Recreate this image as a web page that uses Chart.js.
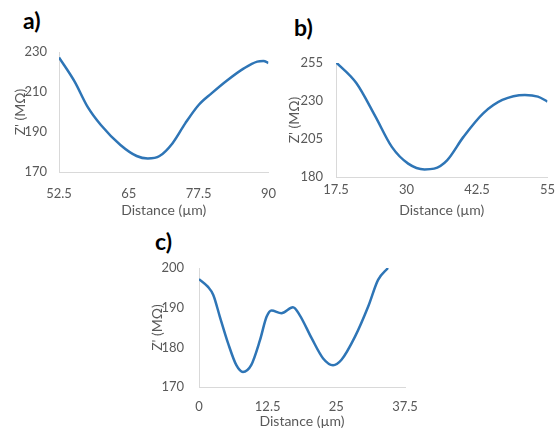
<!DOCTYPE html>
<html>
<head>
<meta charset="utf-8">
<script src="https://cdn.jsdelivr.net/npm/chart.js@4"></script>
<style>
  body { margin: 0; background: #fff; width: 560px; height: 430px; position: relative; overflow: hidden; }
  canvas { position: absolute; }
  .tag { position: absolute; font-family: Lato, sans-serif; font-weight: bold; font-size: 23px; color: #000; }
</style>
</head>
<body>
<div class="tag" style="left:23px;top:6px;">a)</div>
<div class="tag" style="left:294px;top:13px;">b)</div>
<div class="tag" style="left:155px;top:227px;">c)</div>
<canvas id="chartA" style="left:0px;top:0px;"></canvas>
<canvas id="chartB" style="left:280px;top:0px;"></canvas>
<canvas id="chartC" style="left:140px;top:220px;"></canvas>
<script>
// panel a
const aDist = [52.5, 55.3, 57.6, 60, 63.5, 66.4, 68.4, 70.5, 72.8, 75.1, 77.5, 79.8, 82.7, 85.6, 88, 89.1, 90];
const aZ = [227.3, 215.2, 202.7, 193.5, 183.5, 178, 176.8, 178, 184.3, 194.3, 203.5, 209.3, 216, 221.8, 225.2, 225.5, 224.5];
const aXTicks = [52.5, 65, 77.5, 90];
const aYTicks = [170, 190, 210, 230];

// panel b
const bDist = [17.5, 21.1, 24.5, 27.4, 30.3, 33.2, 34.9, 37.2, 40.1, 43.6, 47, 51, 53.3, 55];
const bZ = [255.5, 241.8, 219.7, 199.8, 188.8, 185, 185.5, 191, 206.4, 221.9, 230.7, 234, 232.9, 229.6];
const bXTicks = [17.5, 30, 42.5, 55];
const bYTicks = [180, 205, 230, 255];

// panel c
const cDist = [0, 1.6, 2.6, 3.8, 5.3, 6.8, 8.0, 9.5, 11.1, 12.3, 13.2, 15, 17.1, 18.3, 20.5, 22.6, 24.4, 25.9, 28.4, 30.8, 32.6, 34.4];
const cZ = [197.2, 195.3, 193.2, 187.7, 181, 175.5, 173.8, 175.5, 181.8, 187.7, 189.3, 188.6, 190.1, 188.2, 182.3, 177.2, 175.5, 176.8, 182.7, 190.3, 197, 200];
const cXTicks = [0, 12.5, 25, 37.5];
const cYTicks = [170, 180, 190, 200];

const grey = '#595959';
const axisLine = '#d9d9d9';
const lineBlue = '#2e75b6';

function makeChart(id, w, h, xs, ys, xTicks, yTicks, box) {
    const canvas = document.getElementById(id);
    canvas.width = w;
    canvas.height = h;
    canvas.style.width = w + 'px';
    canvas.style.height = h + 'px';
    return new Chart(canvas.getContext('2d'), {
        type: 'line',
        data: {
            datasets: [{
                data: xs.map((x, i) => ({ x: x, y: ys[i] })),
                borderColor: lineBlue,
                borderWidth: 2.5,
                pointRadius: 0,
                cubicInterpolationMode: 'monotone',
                fill: false
            }]
        },
        options: {
            responsive: false,
            animation: false,
            events: [],
            layout: { padding: { left: 0, top: box.top, right: box.right, bottom: 0 } },
            plugins: { legend: { display: false }, tooltip: { enabled: false } },
            scales: {
                x: {
                    type: 'linear',
                    min: xTicks[0],
                    max: xTicks[xTicks.length - 1],
                    afterBuildTicks: s => { s.ticks = xTicks.map(v => ({ value: v })); },
                    afterFit: s => { s.height = box.xh; },
                    grid: { display: false, drawTicks: false },
                    border: { display: true, color: axisLine, width: 1 },
                    ticks: { color: grey, font: { family: 'Lato', size: 13 }, padding: box.xpad, maxRotation: 0, autoSkip: false },
                    title: { display: true, text: 'Distance (µm)', color: grey, font: { family: 'Lato', size: 14 }, padding: { top: 0, bottom: box.tpad } }
                },
                y: {
                    type: 'linear',
                    min: yTicks[0],
                    max: yTicks[yTicks.length - 1],
                    afterBuildTicks: s => { s.ticks = yTicks.map(v => ({ value: v })); },
                    afterFit: s => { s.width = box.yw; },
                    grid: { display: false, drawTicks: false },
                    border: { display: true, color: axisLine, width: 1 },
                    ticks: { color: grey, font: { family: 'Lato', size: 13 }, padding: box.ypad },
                    title: { display: true, text: "Z' (MΩ)", color: grey, font: { family: 'Lato', size: 14 }, padding: { top: box.ytpad, bottom: 0 } }
                }
            }
        }
    });
}

makeChart('chartA', 290, 220, aDist, aZ, aXTicks, aYTicks,
    { top: 52, right: 17, xh: 48, yw: 59, xpad: 14, ypad: 12, tpad: 1, ytpad: 12 });
makeChart('chartB', 280, 220, bDist, bZ, bXTicks, bYTicks,
    { top: 63, right: 7, xh: 43, yw: 56, xpad: 5, ypad: 13, tpad: 1, ytpad: 6 });
makeChart('chartC', 290, 210, cDist, cZ, cXTicks, cYTicks,
    { top: 48, right: 25, xh: 43, yw: 59, xpad: 12, ypad: 15, tpad: 0, ytpad: 9 });
</script>
</body>
</html>
